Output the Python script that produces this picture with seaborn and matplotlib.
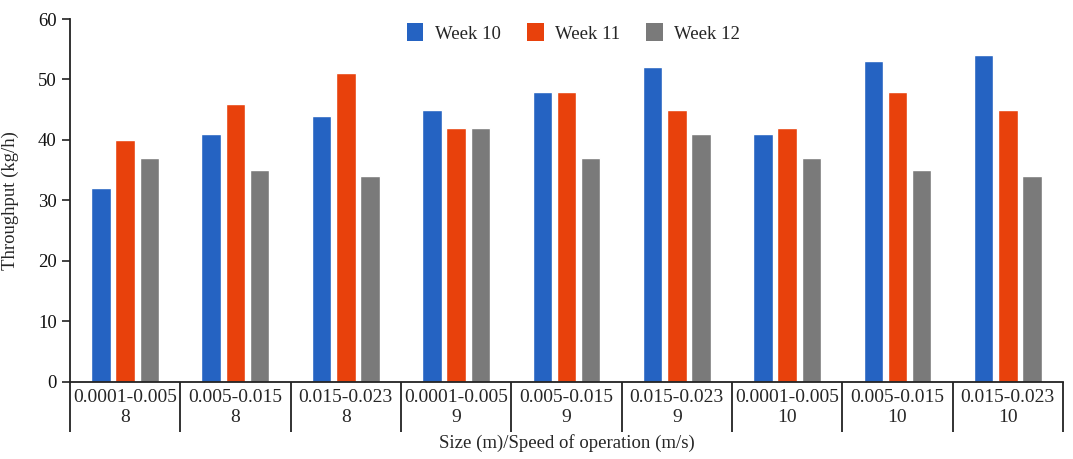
import matplotlib
matplotlib.use("Agg")
import matplotlib.pyplot as plt
import seaborn as sns
import pandas as pd
from matplotlib.patches import Patch

sizes = ["0.0001-0.005", "0.005-0.015", "0.015-0.023"] * 3
speeds = ["8", "8", "8", "9", "9", "9", "10", "10", "10"]
week10 = [32, 41, 44, 45, 48, 52, 41, 53, 54]
week11 = [40, 46, 51, 42, 48, 45, 42, 48, 45]
week12 = [37, 35, 34, 42, 37, 41, 37, 35, 34]
weeks = ["Week 10", "Week 11", "Week 12"]
colors = ["#2563c2", "#e8410c", "#7a7a7a"]

categories = [f"{s}\n{v}" for s, v in zip(sizes, speeds)]
rows = []
for wk, vals in zip(weeks, [week10, week11, week12]):
    for c, v in zip(categories, vals):
        rows.append({"cat": c, "week": wk, "val": v})
df = pd.DataFrame(rows)

sns.set_style("white")
plt.rcParams["font.family"] = ["Liberation Serif", "DejaVu Serif"]

fig = plt.figure(figsize=(10.73, 4.59), dpi=100)
ax = fig.add_axes([0.0652, 0.1678, 0.9255, 0.7908])

sns.barplot(data=df, x="cat", y="val", hue="week", order=categories,
            hue_order=weeks, palette=colors, width=0.66, gap=0.2,
            saturation=1, errorbar=None, ax=ax, legend=False)

ax.set_xlim(-0.5, len(categories) - 0.5)
ax.set_ylim(0, 60)
ax.set_yticks(range(0, 61, 10))
ax.tick_params(axis="y", direction="out", length=6, width=1.2, labelsize=13.5,
               left=True, colors="#222222", labelcolor="#111111")
ax.tick_params(axis="x", length=0, labelsize=14, pad=5)
for side in ["top", "right"]:
    ax.spines[side].set_visible(False)
for side in ["left", "bottom"]:
    ax.spines[side].set_linewidth(1.3)
    ax.spines[side].set_color("#222222")

# group separators below the axis
trans = ax.get_xaxis_transform()
for i in range(len(categories) + 1):
    ax.plot([i - 0.5, i - 0.5], [0, -0.138], transform=trans, color="#222222",
            lw=1.3, clip_on=False, solid_capstyle="butt")

ax.set_ylabel("Throughput (kg/h)", fontsize=13.5, labelpad=14)
ax.set_xlabel("Size (m)/Speed of operation (m/s)", fontsize=13.5, labelpad=6)

handles = [Patch(facecolor=c, edgecolor="none") for c in colors]
ax.legend(handles, weeks, loc="upper center", bbox_to_anchor=(0.507, 1.035),
          ncol=3, frameon=False, handlelength=0.9,
          prop={"family": "Liberation Serif", "size": 13.5},
          handleheight=1.1, handletextpad=0.6, columnspacing=1.4)

fig.savefig("out.png", dpi=100, facecolor="white")
